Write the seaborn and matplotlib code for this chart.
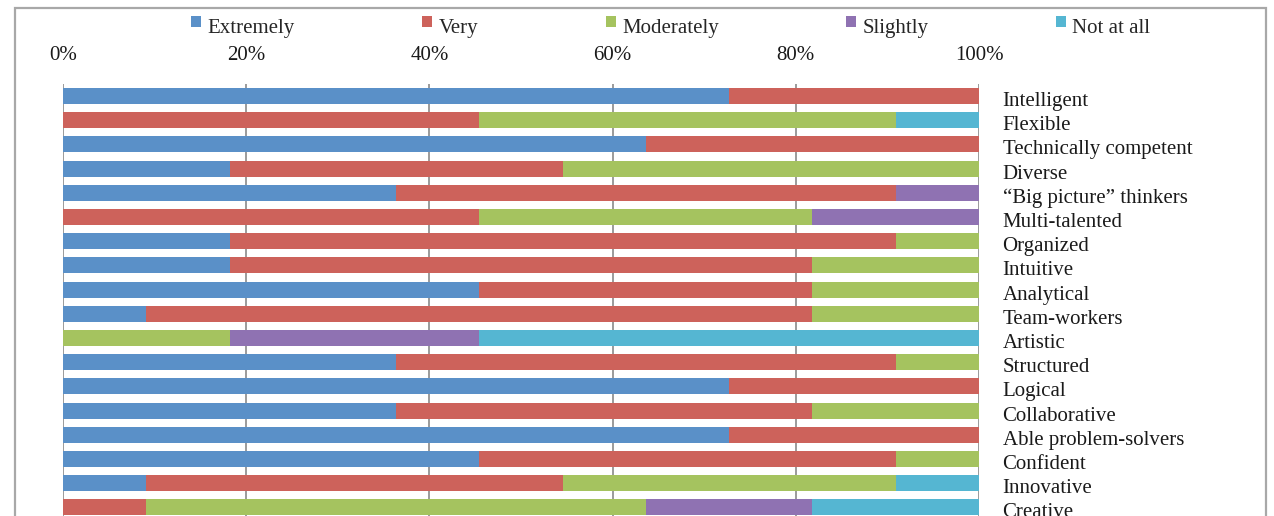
import matplotlib
matplotlib.use("Agg")
import numpy as np
import pandas as pd
import matplotlib.pyplot as plt
import matplotlib.transforms as mtransforms
import seaborn as sns
from matplotlib.patches import Rectangle
from matplotlib.lines import Line2D
from matplotlib.path import Path

# Survey responses (11 respondents) per trait
traits = ["Intelligent", "Flexible", "Technically competent", "Diverse",
          "\u201cBig picture\u201d thinkers", "Multi-talented", "Organized",
          "Intuitive", "Analytical", "Team-workers", "Artistic", "Structured",
          "Logical", "Collaborative", "Able problem-solvers", "Confident",
          "Innovative", "Creative"]
levels = ["Extremely", "Very", "Moderately", "Slightly", "Not at all"]
extremely  = [8, 0, 7, 2, 4, 0, 2, 2, 5, 1, 0, 4, 8, 4, 8, 5, 1, 0]
very       = [3, 5, 4, 4, 6, 5, 8, 7, 4, 8, 0, 6, 3, 5, 3, 5, 5, 1]
moderately = [0, 5, 0, 5, 0, 4, 1, 2, 2, 2, 2, 1, 0, 2, 0, 1, 4, 6]
slightly   = [0, 0, 0, 0, 1, 2, 0, 0, 0, 0, 3, 0, 0, 0, 0, 0, 0, 2]
not_at_all = [0, 1, 0, 0, 0, 0, 0, 0, 0, 0, 6, 0, 0, 0, 0, 0, 1, 2]
tick_values = [0, 20, 40, 60, 80, 100]
tick_labels = ["0%", "20%", "40%", "60%", "80%", "100%"]

colors = ["#5A90C8", "#CD625B", "#A5C35F", "#8F72B2", "#55B6D2"]

sns.set_style("white")
plt.rcParams["font.family"] = ["Liberation Serif", "DejaVu Serif"]

counts = np.array([extremely, very, moderately, slightly, not_at_all], dtype=float)
pct = counts / counts.sum(axis=0) * 100
cum = np.cumsum(pct, axis=0)

W, H = 1274, 516
fig = plt.figure(figsize=(W / 100, H / 100), dpi=100)
top_px, bottom_px = 83.9, 519.5
ax = fig.add_axes([63 / W, 1 - bottom_px / H, (979 - 63) / W, (bottom_px - top_px) / H])

# Stacked bars: draw cumulative totals from the outermost level inward
for i in range(len(levels) - 1, -1, -1):
    vals = np.where(counts[i] > 0, cum[i], np.nan)
    df = pd.DataFrame({"trait": traits, "value": vals})
    sns.barplot(data=df, x="value", y="trait", order=traits, orient="h",
                color=colors[i], saturation=1, width=0.66, linewidth=0,
                ax=ax, zorder=2)

ax.set_xlim(0, 100)
ax.set_ylim(len(traits) - 0.5, -0.5)
ax.set_xlabel("")
ax.set_ylabel("")
ax.xaxis.tick_top()
ax.set_xticks(tick_values)
ax.set_xticklabels(tick_labels, fontsize=15, color="#1a1a1a")
ax.yaxis.tick_right()
ax.set_yticks(range(len(traits)))
ax.set_yticklabels(traits, fontsize=15, color="#1a1a1a")
ax.tick_params(axis="x", length=0, pad=13.5)
ax.tick_params(axis="y", length=0, pad=17)
shift = mtransforms.ScaledTranslation(0, -3 / 100, fig.dpi_scale_trans)
for lbl in ax.get_yticklabels():
    lbl.set_horizontalalignment("left")
    lbl.set_transform(lbl.get_transform() + shift)
ax.grid(axis="x", color="#808080", linewidth=1.1, zorder=1)
ax.grid(axis="y", visible=False)
ax.set_axisbelow(True)
for s in ax.spines.values():
    s.set_visible(False)

# Legend swatch sitting slightly above the text centre line
swatch = Path([(-0.5, -0.05), (0.5, -0.05), (0.5, 0.95), (-0.5, 0.95), (-0.5, -0.05)],
              closed=True)
handles = [Line2D([], [], marker=swatch, linestyle="", color=c,
                  markeredgewidth=0, markersize=14)
           for c in colors]
fig.legend(handles, levels, loc="center left",
           bbox_to_anchor=(191 / W, 1 - 28 / H), ncol=5, frameon=False,
           fontsize=15, handlelength=0.5, handletextpad=0.3,
           columnspacing=6.1, borderpad=0, borderaxespad=0)

fig.add_artist(Rectangle((15 / W, -0.1), (1266 - 15) / W, 1 - 8 / H + 0.1,
                         transform=fig.transFigure, fill=False,
                         edgecolor="#a8a8a8", linewidth=1.6, clip_on=False))

fig.savefig("out.png", dpi=100)
